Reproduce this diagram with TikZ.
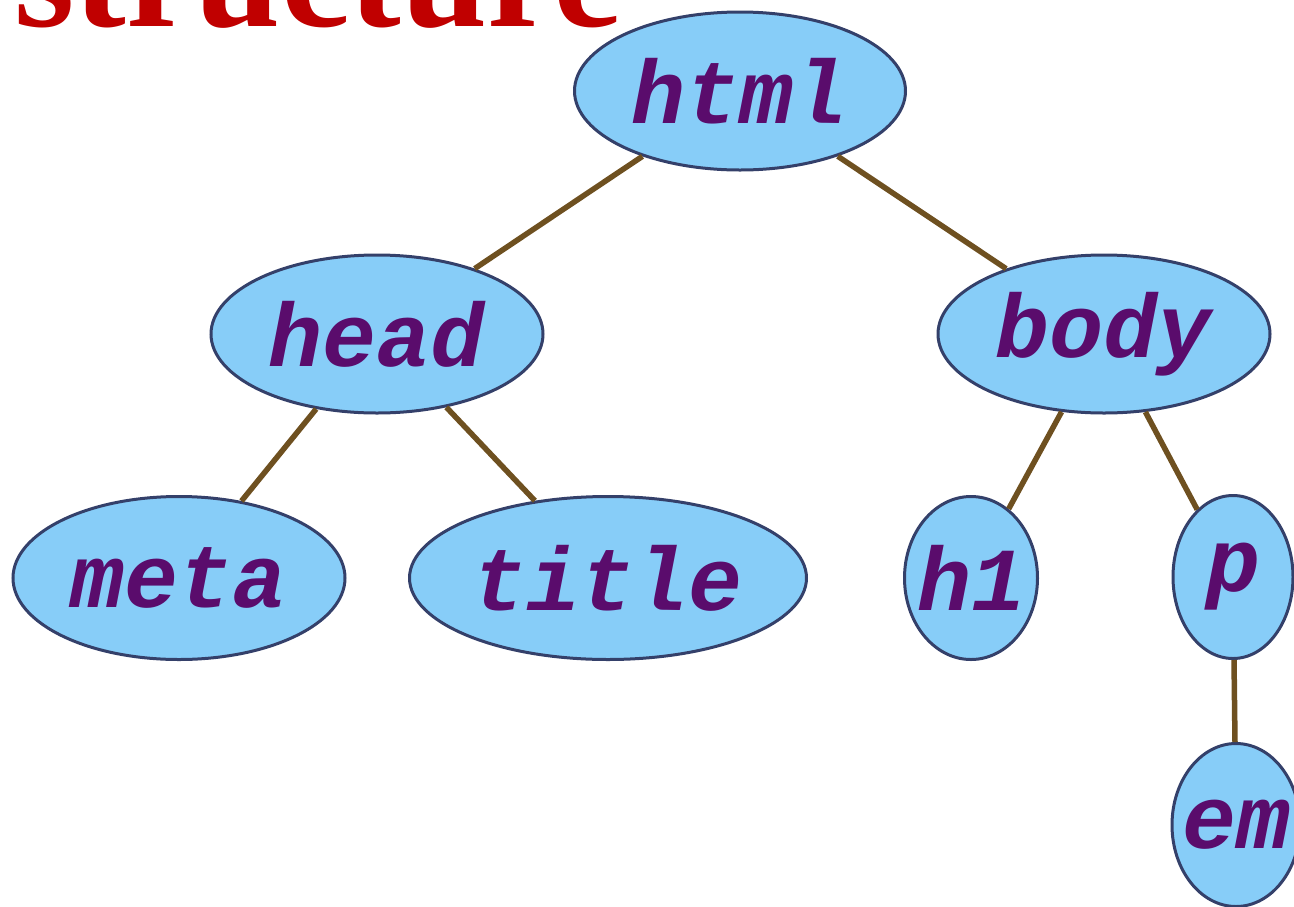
\documentclass[tikz,border=0pt]{standalone}
\usepackage{fontspec}
\setmainfont{Liberation Serif}
\newfontfamily\codefont{Liberation Mono}
\usetikzlibrary{shapes.geometric}
\definecolor{nodefill}{HTML}{87CDF8}
\definecolor{nodeline}{HTML}{34406A}
\definecolor{textpurple}{HTML}{5A0C6C}
\definecolor{edgebrown}{HTML}{6E5020}
\definecolor{titlered}{HTML}{C00000}
\tikzset{
  tag/.style={ellipse, draw=nodeline, line width=3pt, fill=nodefill, inner sep=0pt,
    text=textpurple, font=\codefont\bfseries\itshape\fontsize{90}{90}\selectfont},
  link/.style={draw=edgebrown, line width=5.5pt}
}
\begin{document}
\begin{tikzpicture}[x=1pt,y=-1pt]
\useasboundingbox (0,0) rectangle (1294,906);
\clip (0,0) rectangle (1294,906);
\node[anchor=base west, inner sep=0pt, text=titlered, font=\bfseries\fontsize{155}{155}\selectfont] (heading) at (14,26) {structure};
\node[tag, minimum width=331pt, minimum height=158pt] (html) at (740,91) {html};
\node[tag, minimum width=332pt, minimum height=158pt] (head) at (377,334) {head};
\node[tag, minimum width=332pt, minimum height=158pt] (body) at (1104,334) {body};
\node[tag, minimum width=332pt, minimum height=163pt] (meta) at (179,578) {meta};
\node[tag, minimum width=397pt, minimum height=163pt] (title) at (608,578) {title};
\node[tag, minimum width=133pt, minimum height=163pt] (h1) at (971,578) {\makebox[0pt]{h1}};
\node[tag, minimum width=120pt, minimum height=163pt] (p) at (1233,577) {p};
\node[tag, minimum width=128pt, minimum height=163pt] (em) at (1236,825) {\makebox[0pt]{em}};
\draw[link] (html) -- (head);
\draw[link] (html) -- (body);
\draw[link] (head) -- (meta);
\draw[link] (head) -- (title);
\draw[link] (body) -- (h1);
\draw[link] (body) -- (p);
\draw[link] (p) -- (em);
\end{tikzpicture}
\end{document}
